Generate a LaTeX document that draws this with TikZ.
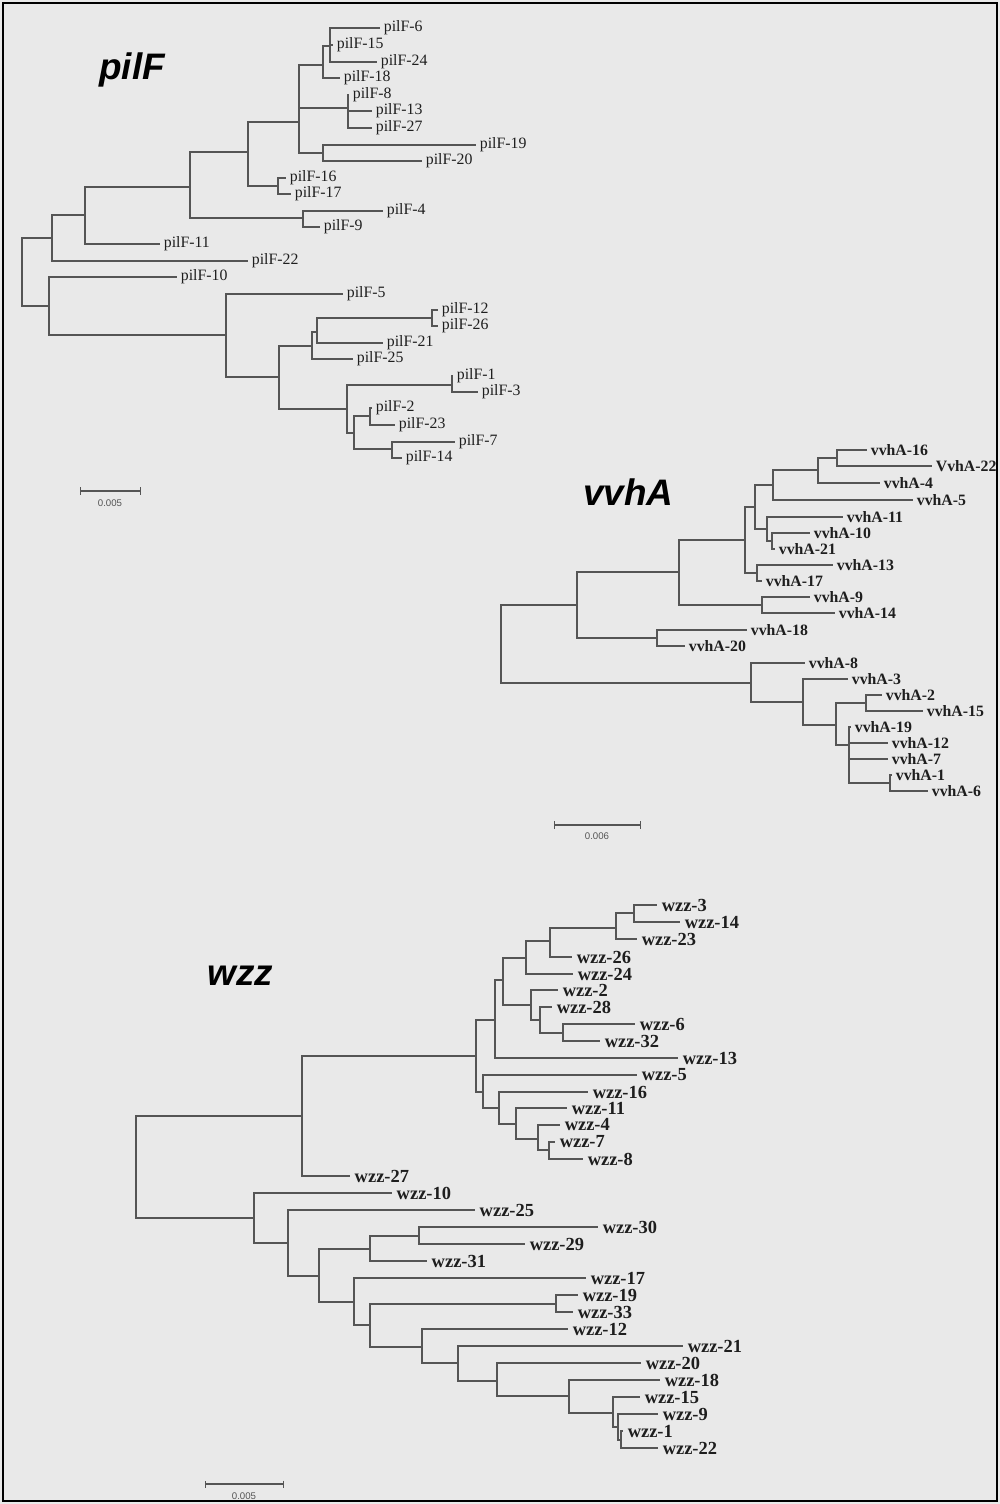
\documentclass[tikz,border=0pt]{standalone}
\usepackage{fontspec}
\setmainfont{Liberation Serif}
\newfontfamily\titlefont{Liberation Sans}
\usepackage{tikz}
\usetikzlibrary{arrows.meta}
\definecolor{paper}{RGB}{233,233,233}
\definecolor{treeline}{RGB}{85,85,85}
\definecolor{labelink}{RGB}{30,30,30}
\tikzset{
  branch/.style={draw=treeline, line width=0.8pt},
  pflab/.style={anchor=west, inner xsep=2pt, inner ysep=0pt, text=labelink, font=\fontsize{9}{9}\selectfont},
  vvlab/.style={anchor=west, inner xsep=2pt, inner ysep=0pt, text=labelink, font=\fontsize{9}{9}\selectfont\bfseries},
  wzlab/.style={anchor=west, inner xsep=2.5pt, inner ysep=0pt, text=labelink, font=\fontsize{10.5}{10.5}\selectfont\bfseries},
  genetitle/.style={anchor=base west, inner sep=0pt, text=black, font=\titlefont\fontsize{21}{21}\selectfont\bfseries\itshape},
  scalebar/.style={draw=treeline, line width=0.8pt, {Bar[width=4pt]}-{Bar[width=4pt]}},
  scalelab/.style={inner sep=0pt, text=treeline, font=\titlefont\fontsize{5.5}{5.5}\selectfont},
}

\begin{document}
\begin{tikzpicture}[x=0.02cm, y=-0.02cm]
\useasboundingbox (0,0) rectangle (1000,1504);
\fill[paper] (0,0) rectangle (1000,1504);
\draw[black, line width=1.2pt] (3,3) rectangle (997,1501);

% pilF
\node[genetitle] (pilftitle) at (99,80) {pilF};
\node[pflab] (p6) at (380,28) {pilF-6};
\node[pflab] (p15) at (333,45) {pilF-15};
\node[pflab] (p24) at (377,62) {pilF-24};
\node[pflab] (p18) at (340,78) {pilF-18};
\node[pflab] (p8) at (349,95) {pilF-8};
\node[pflab] (p13) at (372,111) {pilF-13};
\node[pflab] (p27) at (372,128) {pilF-27};
\node[pflab] (p19) at (476,145) {pilF-19};
\node[pflab] (p20) at (422,161) {pilF-20};
\node[pflab] (p16) at (286,178) {pilF-16};
\node[pflab] (p17) at (291,194) {pilF-17};
\node[pflab] (p4) at (383,211) {pilF-4};
\node[pflab] (p9) at (320,227) {pilF-9};
\node[pflab] (p11) at (160,244) {pilF-11};
\node[pflab] (p22) at (248,261) {pilF-22};
\node[pflab] (p10) at (177,277) {pilF-10};
\node[pflab] (p5) at (343,294) {pilF-5};
\node[pflab] (p12) at (438,310) {pilF-12};
\node[pflab] (p26) at (438,326) {pilF-26};
\node[pflab] (p21) at (383,343) {pilF-21};
\node[pflab] (p25) at (353,359) {pilF-25};
\node[pflab] (p1) at (453,376) {pilF-1};
\node[pflab] (p3) at (478,392) {pilF-3};
\node[pflab] (p2) at (372,408) {pilF-2};
\node[pflab] (p23) at (395,425) {pilF-23};
\node[pflab] (p7) at (455,442) {pilF-7};
\node[pflab] (p14) at (402,458) {pilF-14};
\coordinate (pA) at (330,46);
\coordinate (pB) at (323,65);
\coordinate (pC) at (348,108);
\coordinate (pE) at (323,153);
\coordinate (pD) at (299,122);
\coordinate (pF) at (278,186);
\coordinate (pG) at (248,152);
\coordinate (pI) at (303,218);
\coordinate (pH) at (190,187);
\coordinate (pJ) at (85,215);
\coordinate (pK) at (52,238);
\coordinate (pS) at (432,318);
\coordinate (pQ) at (317,332);
\coordinate (pO) at (312,346);
\coordinate (pT) at (452,385);
\coordinate (pV) at (370,416);
\coordinate (pW) at (392,449);
\coordinate (pU) at (354,433);
\coordinate (pP) at (347,409);
\coordinate (pN) at (279,377);
\coordinate (pM) at (226,335);
\coordinate (pL) at (49,306);
\coordinate (proot) at (22,272);
\draw[branch] (pA) |- (p6.west) (pA) |- (p15.west) (pA) |- (p24.west);
\draw[branch] (pB) |- (pA) (pB) |- (p18.west);
\draw[branch] (pC) |- (p8.west) (pC) |- (p13.west) (pC) |- (p27.west);
\draw[branch] (pE) |- (p19.west) (pE) |- (p20.west);
\draw[branch] (pD) |- (pB) (pD) |- (pC) (pD) |- (pE);
\draw[branch] (pF) |- (p16.west) (pF) |- (p17.west);
\draw[branch] (pG) |- (pD) (pG) |- (pF);
\draw[branch] (pI) |- (p4.west) (pI) |- (p9.west);
\draw[branch] (pH) |- (pG) (pH) |- (pI);
\draw[branch] (pJ) |- (pH) (pJ) |- (p11.west);
\draw[branch] (pK) |- (pJ) (pK) |- (p22.west);
\draw[branch] (pS) |- (p12.west) (pS) |- (p26.west);
\draw[branch] (pQ) |- (pS) (pQ) |- (p21.west);
\draw[branch] (pO) |- (pQ) (pO) |- (p25.west);
\draw[branch] (pT) |- (p1.west) (pT) |- (p3.west);
\draw[branch] (pV) |- (p2.west) (pV) |- (p23.west);
\draw[branch] (pW) |- (p7.west) (pW) |- (p14.west);
\draw[branch] (pU) |- (pV) (pU) |- (pW);
\draw[branch] (pP) |- (pT) (pP) |- (pU);
\draw[branch] (pN) |- (pO) (pN) |- (pP);
\draw[branch] (pM) |- (p5.west) (pM) |- (pN);
\draw[branch] (pL) |- (p10.west) (pL) |- (pM);
\draw[branch] (proot) |- (pK) (proot) |- (pL);
\coordinate (pbarl) at (80,491);
\coordinate (pbarr) at (141,491);
\draw[scalebar] (pbarl) -- (pbarr);
\node[scalelab] (pbarlab) at (110,503) {0.005};

% vvhA
\node[genetitle] (vvhatitle) at (583,505) {vvhA};
\node[vvlab] (v16) at (867,450) {vvhA-16};
\node[vvlab] (v22) at (932,466) {VvhA-22};
\node[vvlab] (v4) at (880,483) {vvhA-4};
\node[vvlab] (v5) at (913,500) {vvhA-5};
\node[vvlab] (v11) at (843,517) {vvhA-11};
\node[vvlab] (v10) at (810,533) {vvhA-10};
\node[vvlab] (v21) at (775,549) {vvhA-21};
\node[vvlab] (v13) at (833,565) {vvhA-13};
\node[vvlab] (v17) at (762,581) {vvhA-17};
\node[vvlab] (v9) at (810,597) {vvhA-9};
\node[vvlab] (v14) at (835,613) {vvhA-14};
\node[vvlab] (v18) at (747,630) {vvhA-18};
\node[vvlab] (v20) at (685,646) {vvhA-20};
\node[vvlab] (v8) at (805,663) {vvhA-8};
\node[vvlab] (v3) at (848,679) {vvhA-3};
\node[vvlab] (v2) at (882,695) {vvhA-2};
\node[vvlab] (v15) at (923,711) {vvhA-15};
\node[vvlab] (v19) at (851,727) {vvhA-19};
\node[vvlab] (v12) at (888,743) {vvhA-12};
\node[vvlab] (v7) at (888,759) {vvhA-7};
\node[vvlab] (v1) at (892,775) {vvhA-1};
\node[vvlab] (v6) at (928,791) {vvhA-6};
\coordinate (vX1) at (837,458);
\coordinate (vA10) at (818,470);
\coordinate (vA7) at (773,485);
\coordinate (vS) at (772,541);
\coordinate (vA8) at (767,529);
\coordinate (vA6) at (755,507);
\coordinate (vA9) at (757,573);
\coordinate (vA4) at (745,540);
\coordinate (vA5) at (762,605);
\coordinate (vA2) at (679,572);
\coordinate (vA3) at (657,638);
\coordinate (vA1) at (577,605);
\coordinate (vB6) at (890,783);
\coordinate (vB5) at (849,745);
\coordinate (vB4) at (866,703);
\coordinate (vB3) at (836,725);
\coordinate (vB2) at (803,702);
\coordinate (vB1) at (751,683);
\coordinate (vroot) at (501,644);
\draw[branch] (vX1) |- (v16.west) (vX1) |- (v22.west);
\draw[branch] (vA10) |- (vX1) (vA10) |- (v4.west);
\draw[branch] (vA7) |- (vA10) (vA7) |- (v5.west);
\draw[branch] (vS) |- (v10.west) (vS) |- (v21.west);
\draw[branch] (vA8) |- (v11.west) (vA8) |- (vS);
\draw[branch] (vA6) |- (vA7) (vA6) |- (vA8);
\draw[branch] (vA9) |- (v13.west) (vA9) |- (v17.west);
\draw[branch] (vA4) |- (vA6) (vA4) |- (vA9);
\draw[branch] (vA5) |- (v9.west) (vA5) |- (v14.west);
\draw[branch] (vA2) |- (vA4) (vA2) |- (vA5);
\draw[branch] (vA3) |- (v18.west) (vA3) |- (v20.west);
\draw[branch] (vA1) |- (vA2) (vA1) |- (vA3);
\draw[branch] (vB6) |- (v1.west) (vB6) |- (v6.west);
\draw[branch] (vB5) |- (v19.west) (vB5) |- (v12.west) (vB5) |- (v7.west) (vB5) |- (vB6);
\draw[branch] (vB4) |- (v2.west) (vB4) |- (v15.west);
\draw[branch] (vB3) |- (vB4) (vB3) |- (vB5);
\draw[branch] (vB2) |- (v3.west) (vB2) |- (vB3);
\draw[branch] (vB1) |- (v8.west) (vB1) |- (vB2);
\draw[branch] (vroot) |- (vA1) (vroot) |- (vB1);
\coordinate (vbarl) at (554,825);
\coordinate (vbarr) at (641,825);
\draw[scalebar] (vbarl) -- (vbarr);
\node[scalelab] (vbarlab) at (597,836) {0.006};

% wzz
\node[genetitle] (wzztitle) at (207,985) {wzz};
\node[wzlab] (w3) at (657,905) {wzz-3};
\node[wzlab] (w14) at (680,922) {wzz-14};
\node[wzlab] (w23) at (637,939) {wzz-23};
\node[wzlab] (w26) at (572,957) {wzz-26};
\node[wzlab] (w24) at (573,974) {wzz-24};
\node[wzlab] (w2) at (558,990) {wzz-2};
\node[wzlab] (w28) at (552,1007) {wzz-28};
\node[wzlab] (w6) at (635,1024) {wzz-6};
\node[wzlab] (w32) at (600,1041) {wzz-32};
\node[wzlab] (w13) at (678,1058) {wzz-13};
\node[wzlab] (w5) at (637,1075) {wzz-5};
\node[wzlab] (w16) at (588,1092) {wzz-16};
\node[wzlab] (w11) at (567,1108) {wzz-11};
\node[wzlab] (w4) at (560,1125) {wzz-4};
\node[wzlab] (w7) at (555,1142) {wzz-7};
\node[wzlab] (w8) at (583,1159) {wzz-8};
\node[wzlab] (w27) at (350,1176) {wzz-27};
\node[wzlab] (w10) at (392,1193) {wzz-10};
\node[wzlab] (w25) at (475,1210) {wzz-25};
\node[wzlab] (w30) at (598,1227) {wzz-30};
\node[wzlab] (w29) at (525,1244) {wzz-29};
\node[wzlab] (w31) at (427,1261) {wzz-31};
\node[wzlab] (w17) at (586,1278) {wzz-17};
\node[wzlab] (w19) at (578,1295) {wzz-19};
\node[wzlab] (w33) at (573,1312) {wzz-33};
\node[wzlab] (w12) at (568,1329) {wzz-12};
\node[wzlab] (w21) at (683,1346) {wzz-21};
\node[wzlab] (w20) at (641,1363) {wzz-20};
\node[wzlab] (w18) at (660,1380) {wzz-18};
\node[wzlab] (w15) at (640,1397) {wzz-15};
\node[wzlab] (w9) at (658,1414) {wzz-9};
\node[wzlab] (w1) at (623,1431) {wzz-1};
\node[wzlab] (w22) at (658,1448) {wzz-22};
\coordinate (wU8) at (634,913);
\coordinate (wU7) at (616,928);
\coordinate (wU6) at (550,941);
\coordinate (wU5) at (526,958);
\coordinate (wU11) at (563,1033);
\coordinate (wU10) at (540,1020);
\coordinate (wU9) at (531,1005);
\coordinate (wU4) at (503,980);
\coordinate (wU3) at (495,1020);
\coordinate (wU16) at (549,1150);
\coordinate (wU15) at (538,1139);
\coordinate (wU14) at (516,1124);
\coordinate (wU13) at (499,1108);
\coordinate (wU12) at (483,1092);
\coordinate (wU2) at (476,1056);
\coordinate (wU1) at (302,1116);
\coordinate (wL6) at (419,1236);
\coordinate (wL4) at (370,1249);
\coordinate (wL8) at (556,1304);
\coordinate (wL15) at (621,1440);
\coordinate (wL14) at (618,1427);
\coordinate (wL13) at (613,1413);
\coordinate (wL12) at (569,1396);
\coordinate (wL11) at (497,1381);
\coordinate (wL10) at (458,1363);
\coordinate (wL9) at (422,1347);
\coordinate (wL7) at (370,1325);
\coordinate (wL5) at (354,1302);
\coordinate (wL3) at (319,1276);
\coordinate (wL2) at (288,1243);
\coordinate (wL1) at (254,1218);
\coordinate (wroot) at (136,1167);
\draw[branch] (wU8) |- (w3.west) (wU8) |- (w14.west);
\draw[branch] (wU7) |- (wU8) (wU7) |- (w23.west);
\draw[branch] (wU6) |- (wU7) (wU6) |- (w26.west);
\draw[branch] (wU5) |- (wU6) (wU5) |- (w24.west);
\draw[branch] (wU11) |- (w6.west) (wU11) |- (w32.west);
\draw[branch] (wU10) |- (w28.west) (wU10) |- (wU11);
\draw[branch] (wU9) |- (w2.west) (wU9) |- (wU10);
\draw[branch] (wU4) |- (wU5) (wU4) |- (wU9);
\draw[branch] (wU3) |- (wU4) (wU3) |- (w13.west);
\draw[branch] (wU16) |- (w7.west) (wU16) |- (w8.west);
\draw[branch] (wU15) |- (w4.west) (wU15) |- (wU16);
\draw[branch] (wU14) |- (w11.west) (wU14) |- (wU15);
\draw[branch] (wU13) |- (w16.west) (wU13) |- (wU14);
\draw[branch] (wU12) |- (w5.west) (wU12) |- (wU13);
\draw[branch] (wU2) |- (wU3) (wU2) |- (wU12);
\draw[branch] (wU1) |- (wU2) (wU1) |- (w27.west);
\draw[branch] (wL6) |- (w30.west) (wL6) |- (w29.west);
\draw[branch] (wL4) |- (wL6) (wL4) |- (w31.west);
\draw[branch] (wL8) |- (w19.west) (wL8) |- (w33.west);
\draw[branch] (wL15) |- (w1.west) (wL15) |- (w22.west);
\draw[branch] (wL14) |- (w9.west) (wL14) |- (wL15);
\draw[branch] (wL13) |- (w15.west) (wL13) |- (wL14);
\draw[branch] (wL12) |- (w18.west) (wL12) |- (wL13);
\draw[branch] (wL11) |- (w20.west) (wL11) |- (wL12);
\draw[branch] (wL10) |- (w21.west) (wL10) |- (wL11);
\draw[branch] (wL9) |- (w12.west) (wL9) |- (wL10);
\draw[branch] (wL7) |- (wL8) (wL7) |- (wL9);
\draw[branch] (wL5) |- (w17.west) (wL5) |- (wL7);
\draw[branch] (wL3) |- (wL4) (wL3) |- (wL5);
\draw[branch] (wL2) |- (w25.west) (wL2) |- (wL3);
\draw[branch] (wL1) |- (w10.west) (wL1) |- (wL2);
\draw[branch] (wroot) |- (wU1) (wroot) |- (wL1);
\coordinate (wbarl) at (205,1484);
\coordinate (wbarr) at (284,1484);
\draw[scalebar] (wbarl) -- (wbarr);
\node[scalelab] (wbarlab) at (244,1496) {0.005};
\end{tikzpicture}
\end{document}
